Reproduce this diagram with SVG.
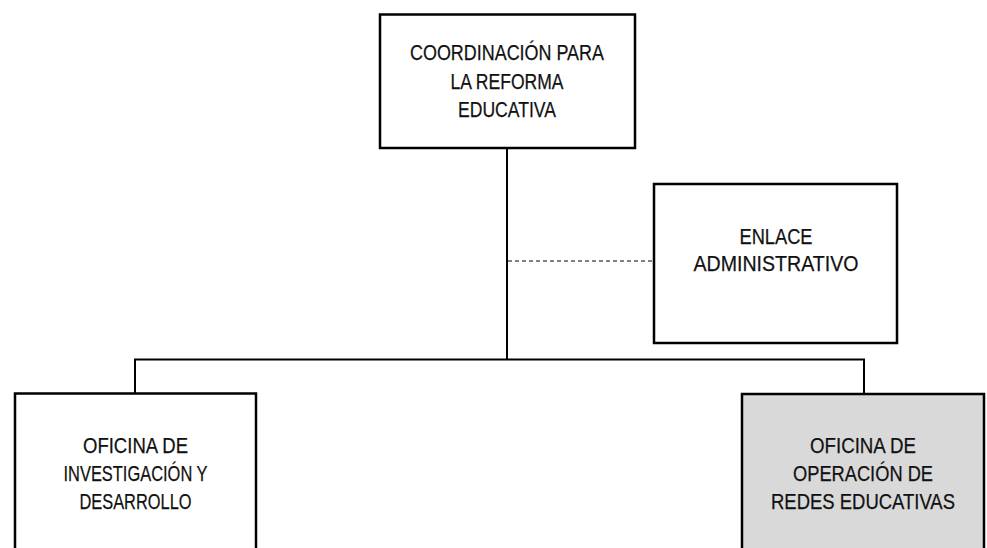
<svg xmlns="http://www.w3.org/2000/svg" width="987" height="548" viewBox="0 0 987 548">
<style>
.box{fill:#ffffff;stroke:#000000;stroke-width:2.5}
.grey{fill:#d9d9d9}
.ln{fill:none;stroke:#000000;stroke-width:2}
.dash{fill:none;stroke:#000000;stroke-width:1;stroke-dasharray:4 3}
.t{font-family:"Liberation Sans",Arial,sans-serif;font-size:22.5px;fill:#111111;stroke:#111111;stroke-width:0.25;text-anchor:middle}
</style>
<rect width="987" height="548" fill="#ffffff"/>
<g id="connectors">
<line class="ln" x1="507" y1="148" x2="507" y2="359.5"/>
<line class="ln" x1="134" y1="359.5" x2="865" y2="359.5"/>
<line class="ln" x1="135" y1="359.5" x2="135" y2="393"/>
<line class="ln" x1="864" y1="359.5" x2="864" y2="393"/>
<line class="dash" x1="508" y1="261" x2="653" y2="261"/>
</g>
<g id="coordinacion">
<rect class="box" x="380" y="14.5" width="255" height="133.5"/>
<text class="t" x="507" y="60" textLength="194" lengthAdjust="spacingAndGlyphs">COORDINACIÓN PARA</text>
<text class="t" x="507" y="88.5" textLength="113" lengthAdjust="spacingAndGlyphs">LA REFORMA</text>
<text class="t" x="507" y="117" textLength="98" lengthAdjust="spacingAndGlyphs">EDUCATIVA</text>
</g>
<g id="enlace">
<rect class="box" x="654" y="184" width="243" height="159"/>
<text class="t" x="776" y="244" textLength="73" lengthAdjust="spacingAndGlyphs">ENLACE</text>
<text class="t" x="776" y="271" textLength="165" lengthAdjust="spacingAndGlyphs">ADMINISTRATIVO</text>
</g>
<g id="investigacion">
<rect class="box" x="15" y="393.5" width="241" height="156"/>
<text class="t" x="135.5" y="453" textLength="105" lengthAdjust="spacingAndGlyphs">OFICINA DE</text>
<text class="t" x="135.5" y="481" textLength="144" lengthAdjust="spacingAndGlyphs">INVESTIGACIÓN Y</text>
<text class="t" x="135.5" y="509" textLength="112" lengthAdjust="spacingAndGlyphs">DESARROLLO</text>
</g>
<g id="redes">
<rect class="box grey" x="742" y="394" width="242" height="155.5"/>
<text class="t" x="863" y="453" textLength="106" lengthAdjust="spacingAndGlyphs">OFICINA DE</text>
<text class="t" x="863" y="481" textLength="140" lengthAdjust="spacingAndGlyphs">OPERACIÓN DE</text>
<text class="t" x="863" y="509" textLength="184" lengthAdjust="spacingAndGlyphs">REDES EDUCATIVAS</text>
</g>
</svg>
